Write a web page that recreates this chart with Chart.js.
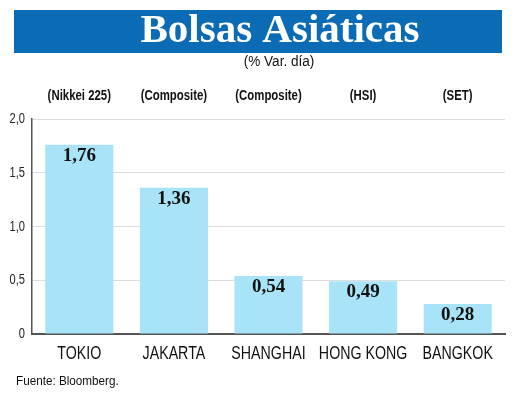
<!DOCTYPE html>
<html>
<head>
<meta charset="utf-8">
<script src="https://cdn.jsdelivr.net/npm/chart.js@4"></script>
<style>
    html, body { margin: 0; padding: 0; background: #fff; }
    #wrap { width: 520px; height: 403px; }
</style>
</head>
<body>
<div id="wrap"><canvas id="bolsasChart" width="520" height="403"></canvas></div>
<script>
// Bolsas Asiáticas - % variación del día

const categories = ["TOKIO", "JAKARTA", "SHANGHAI", "HONG KONG", "BANGKOK"];
const indexNames = ["(Nikkei 225)", "(Composite)", "(Composite)", "(HSI)", "(SET)"];
const values = [1.76, 1.36, 0.54, 0.49, 0.28];
const yTicks = [0, 0.5, 1.0, 1.5, 2.0];

const SANS = '"Liberation Sans", Arial, sans-serif';

function formatComma(v, digits) {
    return v.toFixed(digits).replace(".", ",");
}

// no condensed font installed, so squeeze text horizontally
function narrowText(ctx, text, x, y, font, sx, align) {
    ctx.save();
    ctx.translate(x, y);
    ctx.scale(sx, 1);
    ctx.font = font;
    ctx.textAlign = align;
    ctx.textBaseline = "middle";
    ctx.fillText(text, 0, 0);
    ctx.restore();
}

const headerPlugin = {
    id: "header",
    beforeDraw(chart) {
        const ctx = chart.ctx;
        ctx.save();
        ctx.fillStyle = "#0b6cb5";
        ctx.fillRect(14, 10, 488, 43);

        ctx.fillStyle = "#ffffff";
        ctx.font = 'bold 41px "Liberation Serif", serif';
        ctx.textAlign = "center";
        ctx.textBaseline = "middle";
        ctx.fillText("Bolsas Asiáticas", 280, 31);

        ctx.fillStyle = "#111";
        narrowText(ctx, "(% Var. día)", 279, 62, "14px " + SANS, 0.97, "center");

        // index names above each column, using the x scale
        const x = chart.scales.x;
        indexNames.forEach((name, i) => {
            narrowText(ctx, name, x.getPixelForValue(i), 96, "bold 15px " + SANS, 0.76, "center");
        });

        // category names under the axis
        categories.forEach((name, i) => {
            narrowText(ctx, name, x.getPixelForValue(i), 354, "18px " + SANS, 0.79, "center");
        });

        // y tick labels
        const y = chart.scales.y;
        ctx.fillStyle = "#222";
        yTicks.forEach(v => {
            const label = v === 0 ? "0" : formatComma(v, 1);
            narrowText(ctx, label, 25, y.getPixelForValue(v), "15px " + SANS, 0.74, "right");
        });

        ctx.fillStyle = "#111";
        narrowText(ctx, "Fuente: Bloomberg.", 16, 381, "13px " + SANS, 0.9, "left");
        ctx.restore();
    },
    afterDatasetsDraw(chart) {
        const ctx = chart.ctx;
        const meta = chart.getDatasetMeta(0);
        ctx.save();
        ctx.fillStyle = "#111";
        ctx.font = 'bold 19px "Liberation Serif", serif';
        ctx.textAlign = "center";
        ctx.textBaseline = "middle";
        meta.data.forEach((bar, i) => {
            ctx.fillText(formatComma(values[i], 2), bar.x, bar.y + 11);
        });
        ctx.restore();
    }
};

new Chart(document.getElementById("bolsasChart"), {
    type: "bar",
    data: {
        labels: categories,
        datasets: [{
            data: values,
            backgroundColor: "#a8e3f7",
            borderWidth: 0,
            barPercentage: 1,
            categoryPercentage: 0.72
        }]
    },
    options: {
        responsive: false,
        animation: false,
        devicePixelRatio: 1,
        layout: { padding: { top: 119, right: 15, left: 0, bottom: 0 } },
        plugins: {
            legend: { display: false },
            tooltip: { enabled: false }
        },
        scales: {
            x: {
                grid: { display: false, drawTicks: false },
                border: { display: true, color: "#555", width: 2 },
                ticks: { display: false },
                afterFit(scale) { scale.height = 69; }
            },
            y: {
                min: 0,
                max: 2,
                afterBuildTicks(scale) {
                    scale.ticks = yTicks.map(v => ({ value: v }));
                },
                grid: { color: "#dddddd", lineWidth: 1, drawTicks: false },
                border: { display: true, color: "#555", width: 1.5 },
                ticks: { display: false },
                afterFit(scale) { scale.width = 32; }
            }
        }
    },
    plugins: [headerPlugin]
});
</script>
</body>
</html>
